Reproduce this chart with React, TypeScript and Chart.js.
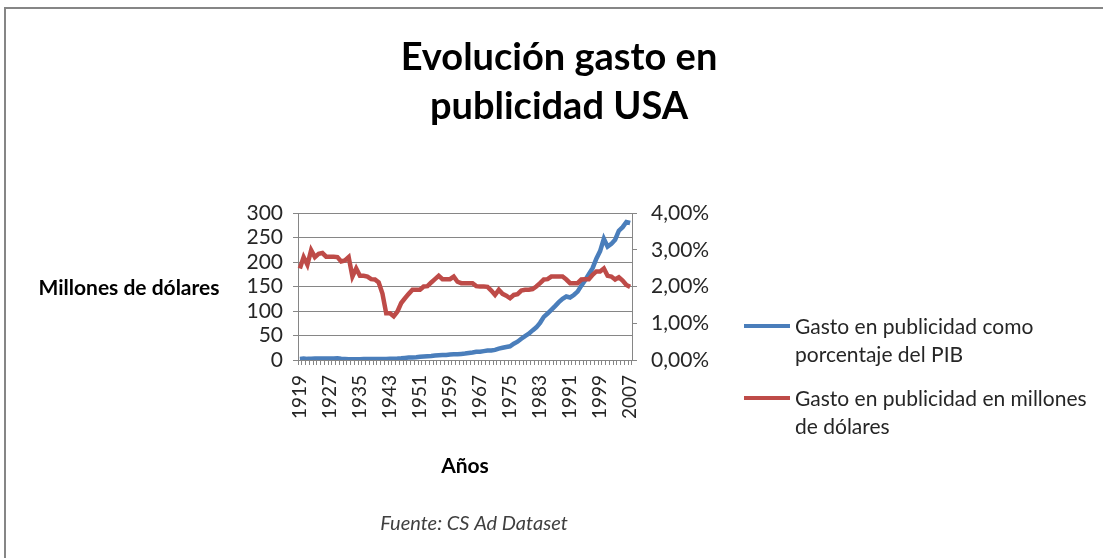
import React, { useEffect, useRef } from 'react';
import { Chart, registerables } from 'chart.js';

Chart.register(...registerables);

const years = [
  1919, 1920, 1921, 1922, 1923, 1924, 1925, 1926, 1927, 1928,
  1929, 1930, 1931, 1932, 1933, 1934, 1935, 1936, 1937, 1938,
  1939, 1940, 1941, 1942, 1943, 1944, 1945, 1946, 1947, 1948,
  1949, 1950, 1951, 1952, 1953, 1954, 1955, 1956, 1957, 1958,
  1959, 1960, 1961, 1962, 1963, 1964, 1965, 1966, 1967, 1968,
  1969, 1970, 1971, 1972, 1973, 1974, 1975, 1976, 1977, 1978,
  1979, 1980, 1981, 1982, 1983, 1984, 1985, 1986, 1987, 1988,
  1989, 1990, 1991, 1992, 1993, 1994, 1995, 1996, 1997, 1998,
  1999, 2000, 2001, 2002, 2003, 2004, 2005, 2006, 2007,
];

// Blue series (left axis, 0-300)
const gastoBlue = [
  2.3, 2.9, 2.3, 2.6, 2.9, 3.0, 3.1, 3.2, 3.2, 3.3,
  3.4, 2.6, 2.3, 1.6, 1.3, 1.6, 1.7, 1.9, 2.0, 1.8,
  2.0, 2.1, 2.2, 2.2, 2.5, 2.7, 2.9, 3.4, 4.3, 4.9,
  5.2, 5.7, 6.4, 7.1, 7.7, 8.1, 9.2, 9.9, 10.3, 10.3,
  11.3, 11.9, 11.8, 12.4, 13.1, 14.2, 15.3, 16.6, 16.9, 18.1,
  19.4, 19.6, 20.7, 23.2, 24.9, 26.6, 27.9, 33.3, 37.4, 43.3,
  48.8, 53.6, 60.4, 66.6, 75.9, 88.0, 94.9, 102.4, 110.0, 118.1,
  124.8, 129.6, 127.6, 132.6, 139.5, 151.7, 162.9, 175.2, 187.5, 206.7,
  222.3, 247.5, 231.3, 236.9, 245.5, 263.8, 271.1, 281.7, 279.6,
];

// Red series (right axis, percent)
const gastoRed = [
  2.49, 2.80, 2.59, 2.99, 2.80, 2.89, 2.91, 2.81, 2.81, 2.81,
  2.80, 2.68, 2.71, 2.80, 2.27, 2.49, 2.29, 2.29, 2.27, 2.20,
  2.19, 2.11, 1.81, 1.27, 1.27, 1.19, 1.32, 1.55, 1.68, 1.80,
  1.91, 1.91, 1.91, 2.00, 2.01, 2.11, 2.20, 2.29, 2.20, 2.20,
  2.20, 2.27, 2.13, 2.09, 2.09, 2.09, 2.09, 2.01, 2.00, 2.00,
  1.99, 1.89, 1.77, 1.91, 1.80, 1.75, 1.68, 1.77, 1.79, 1.89,
  1.91, 1.91, 1.93, 2.00, 2.09, 2.19, 2.20, 2.27, 2.27, 2.27,
  2.27, 2.19, 2.09, 2.09, 2.09, 2.19, 2.20, 2.20, 2.32, 2.41,
  2.41, 2.49, 2.29, 2.27, 2.19, 2.25, 2.16, 2.04, 1.99,
];

const xLabelYears = [1919, 1927, 1935, 1943, 1951, 1959, 1967, 1975, 1983, 1991, 1999, 2007];
const leftTicks = [0, 50, 100, 150, 200, 250, 300];
const rightTicks = [0, 1, 2, 3, 4];

const titleLines = ['Evolución gasto en', 'publicidad USA'];
const yTitle = 'Millones de dólares';
const xTitle = 'Años';
const footer = 'Fuente: CS Ad Dataset';
const seriesLabels = [
  'Gasto en publicidad como porcentaje del PIB',
  'Gasto en publicidad en millones de dólares',
];

const BLUE = '#4a7ebb';
const RED = '#be4b48';
const GRID = '#868686';
const FONT = 'Lato, "Open Sans", sans-serif';

function wrap(ctx: CanvasRenderingContext2D, text: string, maxW: number): string[] {
  const words = text.split(' ');
  const lines: string[] = [];
  let cur = '';
  for (const w of words) {
    const t = cur ? cur + ' ' + w : w;
    if (ctx.measureText(t).width > maxW && cur) {
      lines.push(cur);
      cur = w;
    } else cur = t;
  }
  if (cur) lines.push(cur);
  return lines;
}

const decorPlugin = {
  id: 'decor',
  beforeDraw(chart: any) {
    const ctx = chart.ctx;
    ctx.save();
    ctx.fillStyle = '#ffffff';
    ctx.fillRect(0, 0, chart.width, chart.height);
    ctx.restore();
  },
  afterDraw(chart: any) {
    const ctx: CanvasRenderingContext2D = chart.ctx;
    const ca = chart.chartArea;
    ctx.save();
    // border
    ctx.strokeStyle = GRID;
    ctx.lineWidth = 2;
    ctx.strokeRect(5, 8, 1200, 700);
    // title
    ctx.fillStyle = '#000000';
    ctx.textAlign = 'center';
    ctx.textBaseline = 'alphabetic';
    ctx.font = `bold 38px ${FONT}`;
    ctx.fillText(titleLines[0], 559, 70);
    ctx.fillText(titleLines[1], 559, 119);
    // y title
    ctx.font = `bold 21px ${FONT}`;
    ctx.textBaseline = 'middle';
    ctx.fillText(yTitle, 129, 288);
    // x title
    ctx.fillText(xTitle, (ca.left + ca.right) / 2, 466);
    // footer
    ctx.font = `italic 20px ${FONT}`;
    ctx.fillStyle = '#404040';
    ctx.fillText(footer, 474, 524);
    // legend
    ctx.font = `21px ${FONT}`;
    ctx.textAlign = 'left';
    const tops = [326, 398];
    chart.data.datasets.forEach((ds: any, i: number) => {
      const y0 = tops[i];
      ctx.strokeStyle = ds.borderColor;
      ctx.lineWidth = 4;
      ctx.beginPath();
      ctx.moveTo(744, y0);
      ctx.lineTo(790, y0);
      ctx.stroke();
      ctx.fillStyle = '#262626';
      const lines = wrap(ctx, ds.label, 300);
      lines.forEach((l, j) => ctx.fillText(l, 795, y0 + 1 + j * 28.5));
    });
    ctx.restore();
  },
};

export default function App() {
  const ref = useRef<HTMLCanvasElement | null>(null);
  useEffect(() => {
    document.body.style.margin = '0';
    const canvas = ref.current;
    if (!canvas) return;
    const chart = new Chart(canvas, {
      type: 'line',
      data: {
        labels: years.map(String),
        datasets: [
          {
            label: seriesLabels[0],
            data: gastoBlue,
            borderColor: BLUE,
            backgroundColor: BLUE,
            borderWidth: 4.5,
            pointRadius: 0,
            yAxisID: 'y',
            order: 1,
          },
          {
            label: seriesLabels[1],
            data: gastoRed,
            borderColor: RED,
            backgroundColor: RED,
            borderWidth: 4.5,
            pointRadius: 0,
            yAxisID: 'y1',
            order: 0,
          },
        ],
      },
      options: {
        animation: false,
        responsive: false,
        layout: { padding: { left: 0, right: 381, top: 213, bottom: 108 } },
        plugins: {
          legend: { display: false },
          title: { display: false },
          tooltip: { enabled: false },
        },
        scales: {
          x: {
            type: 'category',
            offset: true,
            grid: { display: true, drawOnChartArea: false, drawTicks: true, tickLength: 5, color: GRID, offset: true },
            border: { display: true, color: GRID },
            ticks: {
              autoSkip: false,
              maxRotation: 90,
              minRotation: 90,
              padding: 10,
              color: '#262626',
              font: { family: FONT, size: 19 },
              callback: (_v: any, i: number) => (xLabelYears.includes(years[i]) ? String(years[i]) : ''),
            },
            afterFit: (s: any) => { s.height = 90; },
          },
          y: {
            position: 'left',
            min: 0,
            max: 300,
            grid: { color: GRID, tickLength: 5 },
            border: { display: true, color: GRID },
            afterBuildTicks: (s: any) => { s.ticks = leftTicks.map((v) => ({ value: v })); },
            ticks: {
              autoSkip: false,
              padding: 10,
              color: '#262626',
              font: { family: FONT, size: 21 },
              callback: (v: any) => String(v),
            },
            afterFit: (s: any) => { s.width = 298; },
          },
          y1: {
            position: 'right',
            min: 0,
            max: 4,
            grid: { drawOnChartArea: false, color: GRID, tickLength: 5 },
            border: { display: true, color: GRID },
            afterBuildTicks: (s: any) => { s.ticks = rightTicks.map((v) => ({ value: v })); },
            ticks: {
              autoSkip: false,
              padding: 14,
              color: '#262626',
              font: { family: FONT, size: 21 },
              callback: (v: any) => Number(v).toFixed(2).replace('.', ',') + '%',
            },
            afterFit: (s: any) => { s.width = 90; },
          },
        },
      },
      plugins: [decorPlugin],
    });
    return () => chart.destroy();
  }, []);
  return (
    <div style={{ position: 'fixed', left: 0, top: 0, width: 1103, height: 558 }}>
      <canvas ref={ref} width={1103} height={558} />
    </div>
  );
}
